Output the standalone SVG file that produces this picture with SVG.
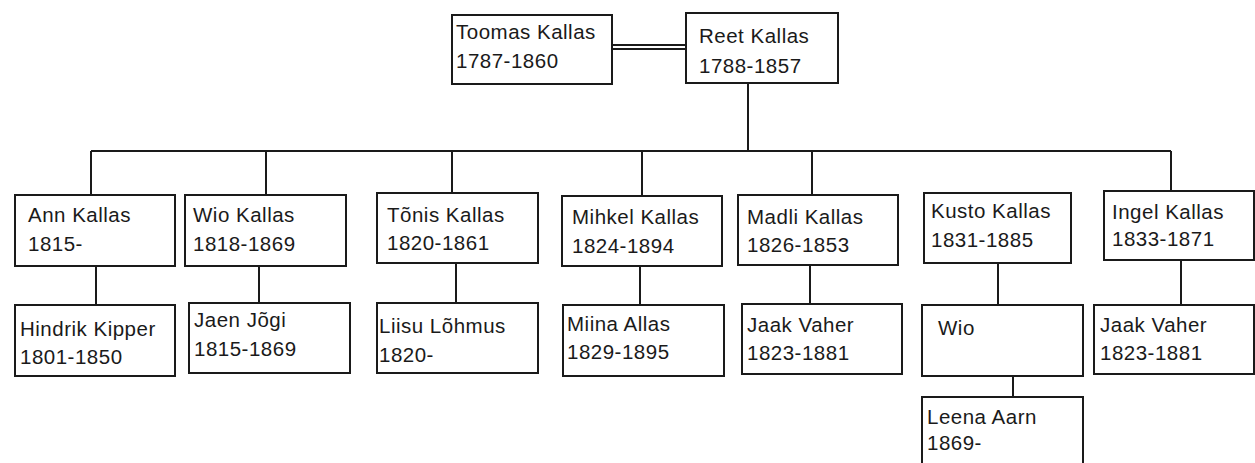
<svg xmlns="http://www.w3.org/2000/svg" width="1255" height="463" viewBox="0 0 1255 463">
<style>
.box{fill:#fff;stroke:#1a1a1a;stroke-width:2}
.ln{fill:none;stroke:#1a1a1a;stroke-width:2}
text{font-family:"Liberation Sans",Arial,sans-serif;font-size:20.5px;letter-spacing:0.5px;fill:#1a1a1a}
</style>
<rect width="1255" height="463" fill="#fff"/>
<g id="connectors">
<line class="ln" x1="612" y1="45" x2="686" y2="45"/>
<line class="ln" x1="612" y1="49" x2="686" y2="49"/>
<line class="ln" x1="748" y1="83" x2="748" y2="151"/>
<line class="ln" x1="91" y1="151" x2="1171" y2="151"/>
<line class="ln" x1="91" y1="151" x2="91" y2="195"/>
<line class="ln" x1="266" y1="151" x2="266" y2="195"/>
<line class="ln" x1="452" y1="151" x2="452" y2="193"/>
<line class="ln" x1="642" y1="151" x2="642" y2="196"/>
<line class="ln" x1="812" y1="151" x2="812" y2="195"/>
<line class="ln" x1="1171" y1="151" x2="1171" y2="191"/>
<line class="ln" x1="96" y1="266" x2="96" y2="305"/>
<line class="ln" x1="259" y1="266" x2="259" y2="303"/>
<line class="ln" x1="456" y1="263" x2="456" y2="303"/>
<line class="ln" x1="640" y1="266" x2="640" y2="305"/>
<line class="ln" x1="810" y1="265" x2="810" y2="304"/>
<line class="ln" x1="998" y1="263" x2="998" y2="305"/>
<line class="ln" x1="1181" y1="260" x2="1181" y2="305"/>
<line class="ln" x1="1013" y1="376" x2="1013" y2="397"/>
</g>
<g id="toomas"><rect class="box" x="452" y="15" width="160" height="69"/><text x="456" y="39">Toomas Kallas</text><text x="456" y="68">1787-1860</text></g>
<g id="reet"><rect class="box" x="686" y="13" width="152" height="70"/><text x="699" y="43">Reet Kallas</text><text x="699" y="73">1788-1857</text></g>
<g id="ann"><rect class="box" x="15" y="195" width="160" height="71"/><text x="28" y="222">Ann Kallas</text><text x="28" y="251">1815-</text></g>
<g id="wio-kallas"><rect class="box" x="185" y="195" width="161" height="71"/><text x="193" y="222">Wio Kallas</text><text x="193" y="251">1818-1869</text></g>
<g id="tonis"><rect class="box" x="377" y="193" width="161" height="70"/><text x="387" y="222">Tõnis Kallas</text><text x="387" y="250">1820-1861</text></g>
<g id="mihkel"><rect class="box" x="562" y="196" width="160" height="70"/><text x="572" y="224">Mihkel Kallas</text><text x="572" y="253">1824-1894</text></g>
<g id="madli"><rect class="box" x="738" y="195" width="160" height="70"/><text x="747" y="224">Madli Kallas</text><text x="747" y="252">1826-1853</text></g>
<g id="kusto"><rect class="box" x="924" y="193" width="147" height="70"/><text x="931" y="218">Kusto Kallas</text><text x="931" y="247">1831-1885</text></g>
<g id="ingel"><rect class="box" x="1104" y="191" width="150" height="69"/><text x="1112" y="219">Ingel Kallas</text><text x="1112" y="246">1833-1871</text></g>
<g id="hindrik"><rect class="box" x="15" y="305" width="160" height="71"/><text x="20" y="336">Hindrik Kipper</text><text x="20" y="364">1801-1850</text></g>
<g id="jaen"><rect class="box" x="189" y="303" width="161" height="70"/><text x="194" y="327">Jaen Jõgi</text><text x="194" y="356">1815-1869</text></g>
<g id="liisu"><rect class="box" x="377" y="303" width="161" height="70"/><text x="379" y="333">Liisu Lõhmus</text><text x="379" y="362">1820-</text></g>
<g id="miina"><rect class="box" x="563" y="305" width="161" height="71"/><text x="567" y="331">Miina Allas</text><text x="567" y="359">1829-1895</text></g>
<g id="jaak1"><rect class="box" x="742" y="304" width="160" height="70"/><text x="747" y="332">Jaak Vaher</text><text x="747" y="360">1823-1881</text></g>
<g id="wio"><rect class="box" x="922" y="305" width="161" height="71"/><text x="938" y="335">Wio</text></g>
<g id="jaak2"><rect class="box" x="1094" y="305" width="160" height="69"/><text x="1100" y="332">Jaak Vaher</text><text x="1100" y="360">1823-1881</text></g>
<g id="leena"><rect class="box" x="922" y="397" width="161" height="80"/><text x="927" y="424">Leena Aarn</text><text x="927" y="450">1869-</text></g>
</svg>
